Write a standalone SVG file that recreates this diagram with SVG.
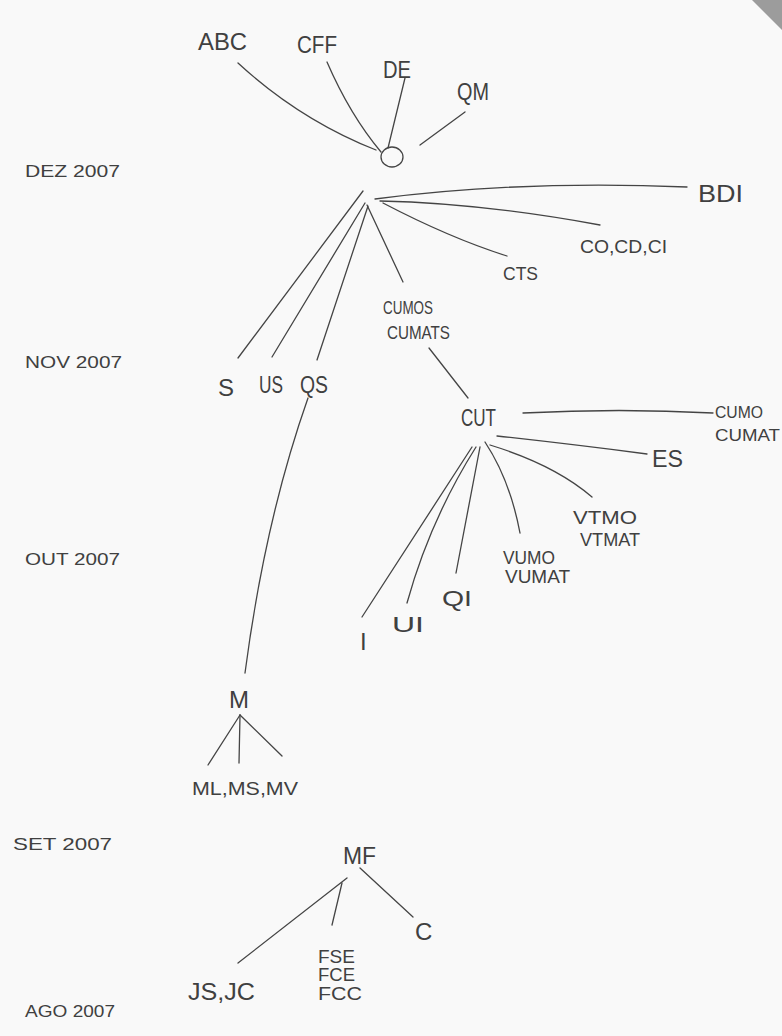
<svg xmlns="http://www.w3.org/2000/svg" width="782" height="1036" viewBox="0 0 782 1036">
<style>
text{font-family:"Liberation Sans",Arial,sans-serif;fill:#404040}
.l{font-size:24px}.k{font-size:22px}.m{font-size:19px}.s{font-size:16px}.d{font-size:17px}.f{font-size:18px}
#connectors path{fill:none;stroke:#454545;stroke-width:1.3;stroke-linecap:round}
</style>
<rect width="782" height="1036" fill="#f9f9f9"/>
<polygon points="752,0 782,0 782,30" fill="#9c9c9c"/>
<g id="dates">
<text class="d" x="25" y="177" textLength="95" lengthAdjust="spacingAndGlyphs">DEZ 2007</text>
<text class="d" x="25" y="368" textLength="97" lengthAdjust="spacingAndGlyphs">NOV 2007</text>
<text class="d" x="25" y="565" textLength="95" lengthAdjust="spacingAndGlyphs">OUT 2007</text>
<text class="d" x="13" y="850" textLength="99" lengthAdjust="spacingAndGlyphs">SET 2007</text>
<text class="d" x="25" y="1017" textLength="90" lengthAdjust="spacingAndGlyphs">AGO 2007</text>
</g>
<g id="connectors">
<path d="M238,63 Q300,120 376,150"/>
<path d="M327,62 Q350,115 381,152"/>
<path d="M405,78 Q396,115 388,148"/>
<path d="M465,112 L420,145"/>
<path d="M375,199 Q520,180 687,187"/>
<path d="M380,201 Q480,203 600,225"/>
<path d="M383,203 Q450,238 507,256"/>
<path d="M367,205 L403,282"/>
<path d="M363,191 L238,358"/>
<path d="M365,203 L272,357"/>
<path d="M368,206 L317,360"/>
<path d="M308,398 Q265,520 245,673"/>
<path d="M429,348 L468,398"/>
<path d="M523,413 Q620,408 713,413"/>
<path d="M497,436 Q570,444 647,454"/>
<path d="M490,445 Q555,465 592,497"/>
<path d="M485,442 Q510,480 520,533"/>
<path d="M480,447 L456,573"/>
<path d="M476,447 Q430,520 407,603"/>
<path d="M472,447 L362,617"/>
<path d="M240,715 L208,765"/>
<path d="M240,715 L239,763"/>
<path d="M240,715 L282,756"/>
<path d="M347,878 L238,963"/>
<path d="M342,883 L332,925"/>
<path d="M360,868 L413,917"/>
</g>
<g id="n-abc"><text class="l" x="198" y="50" textLength="49" lengthAdjust="spacingAndGlyphs">ABC</text></g>
<g id="n-cff"><text class="l" x="297" y="53" textLength="40" lengthAdjust="spacingAndGlyphs">CFF</text></g>
<g id="n-de"><text class="l" x="383" y="78" textLength="28" lengthAdjust="spacingAndGlyphs">DE</text></g>
<g id="n-qm"><text class="l" x="457" y="100" textLength="32" lengthAdjust="spacingAndGlyphs">QM</text></g>
<g id="n-o"><ellipse cx="392" cy="157" rx="11" ry="10" fill="none" stroke="#454545" stroke-width="1.3"/></g>
<g id="n-bdi"><text class="l" x="698" y="202" textLength="45" lengthAdjust="spacingAndGlyphs">BDI</text></g>
<g id="n-co"><text class="m" x="580" y="253" textLength="87" lengthAdjust="spacingAndGlyphs">CO,CD,CI</text></g>
<g id="n-cts"><text class="m" x="503" y="280" textLength="35" lengthAdjust="spacingAndGlyphs">CTS</text></g>
<g id="n-cumos"><text class="m" x="383" y="314" textLength="50" lengthAdjust="spacingAndGlyphs">CUMOS</text><text class="m" x="387" y="339" textLength="63" lengthAdjust="spacingAndGlyphs">CUMATS</text></g>
<g id="n-s"><text class="l" x="218" y="396">S</text></g>
<g id="n-us"><text class="l" x="259" y="393" textLength="24" lengthAdjust="spacingAndGlyphs">US</text></g>
<g id="n-qs"><text class="l" x="300" y="393" textLength="28" lengthAdjust="spacingAndGlyphs">QS</text></g>
<g id="n-cut"><text class="l" x="461" y="426" textLength="35" lengthAdjust="spacingAndGlyphs">CUT</text></g>
<g id="n-cumo"><text class="s" x="715" y="418" textLength="48" lengthAdjust="spacingAndGlyphs">CUMO</text><text class="s" x="715" y="441" textLength="65" lengthAdjust="spacingAndGlyphs">CUMAT</text></g>
<g id="n-es"><text class="l" x="652" y="467" textLength="31" lengthAdjust="spacingAndGlyphs">ES</text></g>
<g id="n-vtmo"><text class="m" x="573" y="524" textLength="64" lengthAdjust="spacingAndGlyphs">VTMO</text><text class="m" x="580" y="546" textLength="60" lengthAdjust="spacingAndGlyphs">VTMAT</text></g>
<g id="n-vumo"><text class="m" x="503" y="564" textLength="52" lengthAdjust="spacingAndGlyphs">VUMO</text><text class="m" x="505" y="583" textLength="65" lengthAdjust="spacingAndGlyphs">VUMAT</text></g>
<g id="n-qi"><text class="k" x="442" y="606" textLength="30" lengthAdjust="spacingAndGlyphs">QI</text></g>
<g id="n-ui"><text class="k" x="392" y="632" textLength="32" lengthAdjust="spacingAndGlyphs">UI</text></g>
<g id="n-i"><text class="l" x="360" y="650">I</text></g>
<g id="n-m"><text class="l" x="229" y="708">M</text></g>
<g id="n-ml"><text class="m" x="192" y="795" textLength="106" lengthAdjust="spacingAndGlyphs">ML,MS,MV</text></g>
<g id="n-mf"><text class="l" x="343" y="864" textLength="33" lengthAdjust="spacingAndGlyphs">MF</text></g>
<g id="n-c"><text class="l" x="415" y="940">C</text></g>
<g id="n-js"><text class="l" x="188" y="1000" textLength="67" lengthAdjust="spacingAndGlyphs">JS,JC</text></g>
<g id="n-fse"><text class="f" x="318" y="963" textLength="37" lengthAdjust="spacingAndGlyphs">FSE</text><text class="f" x="318" y="981" textLength="37" lengthAdjust="spacingAndGlyphs">FCE</text><text class="f" x="318" y="1000" textLength="44" lengthAdjust="spacingAndGlyphs">FCC</text></g>
</svg>
